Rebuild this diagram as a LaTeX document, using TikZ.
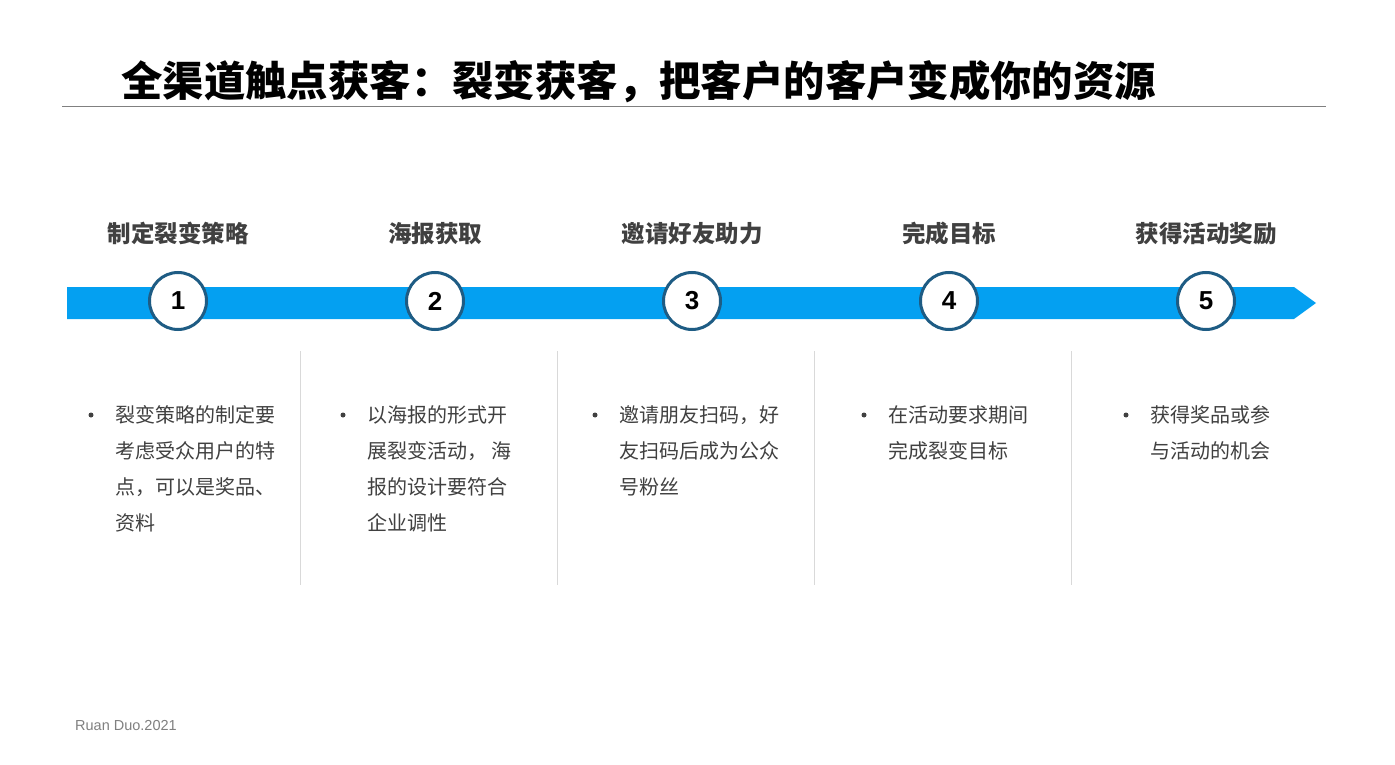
\documentclass[tikz,border=0pt]{standalone}
\usepackage{fontspec}
\setmainfont{Liberation Sans}
\newfontfamily\cjk{Noto Sans CJK SC}
\definecolor{band}{RGB}{4,160,241}
\definecolor{ring}{RGB}{30,92,132}
\definecolor{txt}{RGB}{64,64,64}
\definecolor{sep}{RGB}{217,217,217}
\definecolor{rule}{RGB}{128,128,128}
\tikzset{
  heading/.style={anchor=base, inner sep=0, text=txt, font=\cjk\bfseries\fontsize{23.5}{28}\selectfont},
  stepcircle/.style={circle, draw=ring, line width=3pt, fill=white, minimum size=57pt, inner sep=0,
     font=\bfseries\fontsize{26}{30}\selectfont},
  bodytext/.style={anchor=base west, inner sep=0, align=left, text=txt, font=\cjk\fontsize{20}{36}\selectfont},
  bulletdot/.style={circle, fill=txt, inner sep=0, minimum size=5pt},
  seprule/.style={draw=sep, line width=1pt}
}
\begin{document}
\begin{tikzpicture}[x=1pt,y=-1pt]
\useasboundingbox (0,0) rectangle (1395,765);
\fill[white] (0,0) rectangle (1395,765);
% title
\node[anchor=base west, inner sep=0, font=\cjk\bfseries\fontsize{41.4}{48}\selectfont] (title) at (121,97)
  {全渠道触点获客：裂变获客，把客户的客户变成你的资源};
\coordinate (rl) at (62,107);
\coordinate (rr) at (1326,107);
\draw[draw=rule, line width=1pt] (rl) -- (rr);
% band arrow
\fill[band] (67,287) -- (1294,287) -- (1316,303) -- (1294,319) -- (67,319) -- cycle;
% steps
\foreach \i/\x/\h in {1/178/制定裂变策略, 2/435/海报获取, 3/692/邀请好友助力, 4/949/完成目标, 5/1206/获得活动奖励}{
  \node[heading] (h\i) at (\x,242) {\h};
  \node[stepcircle] (c\i) at (\x,301) {\i};
}
% separators
\foreach \i/\x in {1/300, 2/557, 3/814, 4/1071}{
  \coordinate (st\i) at (\x,351);
  \coordinate (sb\i) at (\x,585);
  \draw[seprule] (st\i) -- (sb\i);
}
% bullets and text (base anchor = baseline of last line)
\node[bulletdot] (b1) at (91,415) {};
\node[bodytext] (t1) at (115,530) {裂变策略的制定要\\考虑受众用户的特\\点，可以是奖品、\\资料};
\node[bulletdot] (b2) at (343,415) {};
\node[bodytext] (t2) at (367,530) {以海报的形式开\\展裂变活动， 海\\报的设计要符合\\企业调性};
\node[bulletdot] (b3) at (595,415) {};
\node[bodytext] (t3) at (619,494) {邀请朋友扫码，好\\友扫码后成为公众\\号粉丝};
\node[bulletdot] (b4) at (864,415) {};
\node[bodytext] (t4) at (888,458) {在活动要求期间\\完成裂变目标};
\node[bulletdot] (b5) at (1126,415) {};
\node[bodytext] (t5) at (1150,458) {获得奖品或参\\与活动的机会};
% footer
\node[anchor=base west, inner sep=0, text=rule, font=\fontsize{14.5}{17}\selectfont] (foot) at (75,730) {Ruan Duo.2021};
\end{tikzpicture}
\end{document}
